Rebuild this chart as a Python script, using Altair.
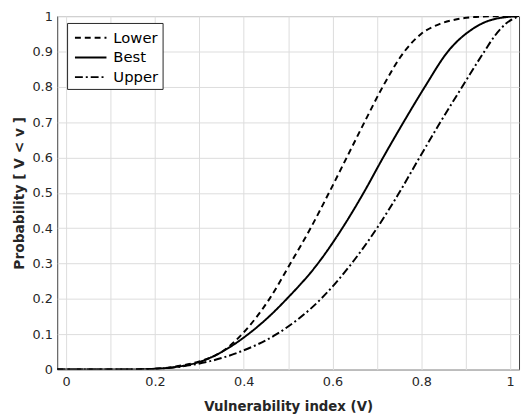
import altair as alt
import pandas as pd

# Lower bound curve (dashed)
lower_v = [-0.02, 0.10, 0.15, 0.20, 0.248, 0.30, 0.352, 0.396, 0.458, 0.505, 0.548, 0.592, 0.632, 0.672, 0.713, 0.762, 0.80, 0.842, 0.88, 0.916, 0.96, 1.02]
lower_p = [0, 0, 0.0003, 0.002, 0.009, 0.023, 0.051, 0.1, 0.2, 0.3, 0.394, 0.5, 0.6, 0.7, 0.8, 0.9, 0.95, 0.978, 0.991, 0.997, 0.9995, 1.0]

# Best estimate curve (solid)
best_v = [-0.02, 0.10, 0.15, 0.20, 0.25, 0.304, 0.352, 0.41, 0.457, 0.497, 0.567, 0.622, 0.670, 0.714, 0.76, 0.808, 0.86, 0.916, 0.96, 1.02]
best_p = [0, 0, 0.0003, 0.002, 0.008, 0.023, 0.051, 0.1, 0.15, 0.2, 0.3, 0.4, 0.5, 0.6, 0.7, 0.8, 0.9, 0.964, 0.99, 1.0]

# Upper bound curve (dash-dot)
upper_v = [-0.02, 0.10, 0.15, 0.20, 0.263, 0.322, 0.393, 0.474, 0.574, 0.643, 0.70, 0.75, 0.796, 0.843, 0.892, 0.942, 0.966, 0.99, 1.02]
upper_p = [0, 0, 0.0003, 0.002, 0.009, 0.023, 0.051, 0.1, 0.2, 0.3, 0.4, 0.5, 0.6, 0.7, 0.8, 0.9, 0.945, 0.978, 1.0]

series_names = ["Lower", "Best", "Upper"]
x_ticks = [0, 0.1, 0.2, 0.3, 0.4, 0.5, 0.6, 0.7, 0.8, 0.9, 1.0]
y_ticks = [0, 0.1, 0.2, 0.3, 0.4, 0.5, 0.6, 0.7, 0.8, 0.9, 1.0]

rows = []
for name, vs, ps in [("Lower", lower_v, lower_p), ("Best", best_v, best_p), ("Upper", upper_v, upper_p)]:
    for i, (v, p) in enumerate(zip(vs, ps)):
        rows.append({"series": name, "v": v, "p": p, "order": i})
df = pd.DataFrame(rows)

FONT = "DejaVu Sans"
AXC = "#262626"

chart = alt.Chart(df).mark_line(
    color="black", strokeWidth=2, interpolate="monotone", clip=True
).encode(
    x=alt.X("v:Q", scale=alt.Scale(domain=[-0.02, 1.02], nice=False, zero=False),
            axis=alt.Axis(values=x_ticks, title="Vulnerability index (V)",
                          labelExpr="round(datum.value*10) % 2 == 0 ? format(datum.value, '~g') : ''",
                          labelPadding=6, titlePadding=12, titleFontSize=13.5)),
    y=alt.Y("p:Q", scale=alt.Scale(domain=[0, 1], nice=False),
            axis=alt.Axis(values=y_ticks, format="~g", title="Probability [ V < v ]",
                          labelPadding=5, titlePadding=6, titleFontSize=14)),
    strokeDash=alt.StrokeDash("series:N",
        scale=alt.Scale(domain=series_names, range=[[6, 4], [1, 0], [8, 3, 2, 3]]),
        legend=alt.Legend(title=None, orient="none", legendX=10, legendY=7,
                          symbolType="M-1.6,0H1.6", symbolStrokeColor="black",
                          symbolFillColor="transparent",
                          symbolStrokeWidth=2, symbolSize=400, symbolOffset=9,
                          labelFont=FONT, labelFontSize=15, labelColor="black",
                          labelOffset=12, rowPadding=1,
                          fillColor="white", strokeColor=AXC, padding=4)),
    detail="series:N",
    order="order:Q",
).properties(
    width=469, height=359,
    autosize=alt.AutoSizeParams(type="none"),
    padding={"left": 50, "top": 5, "right": 2, "bottom": 46},
).configure_axis(
    grid=True, gridColor="#dcdcdc", gridWidth=1,
    domain=False, ticks=False,
    labelFont=FONT, labelFontSize=13, labelColor=AXC,
    titleFont=FONT, titleFontWeight="bold", titleColor=AXC,
).configure_view(
    stroke="#404040", strokeWidth=1
)

chart.save("out.html", embed_options={"renderer": "svg", "actions": False})
